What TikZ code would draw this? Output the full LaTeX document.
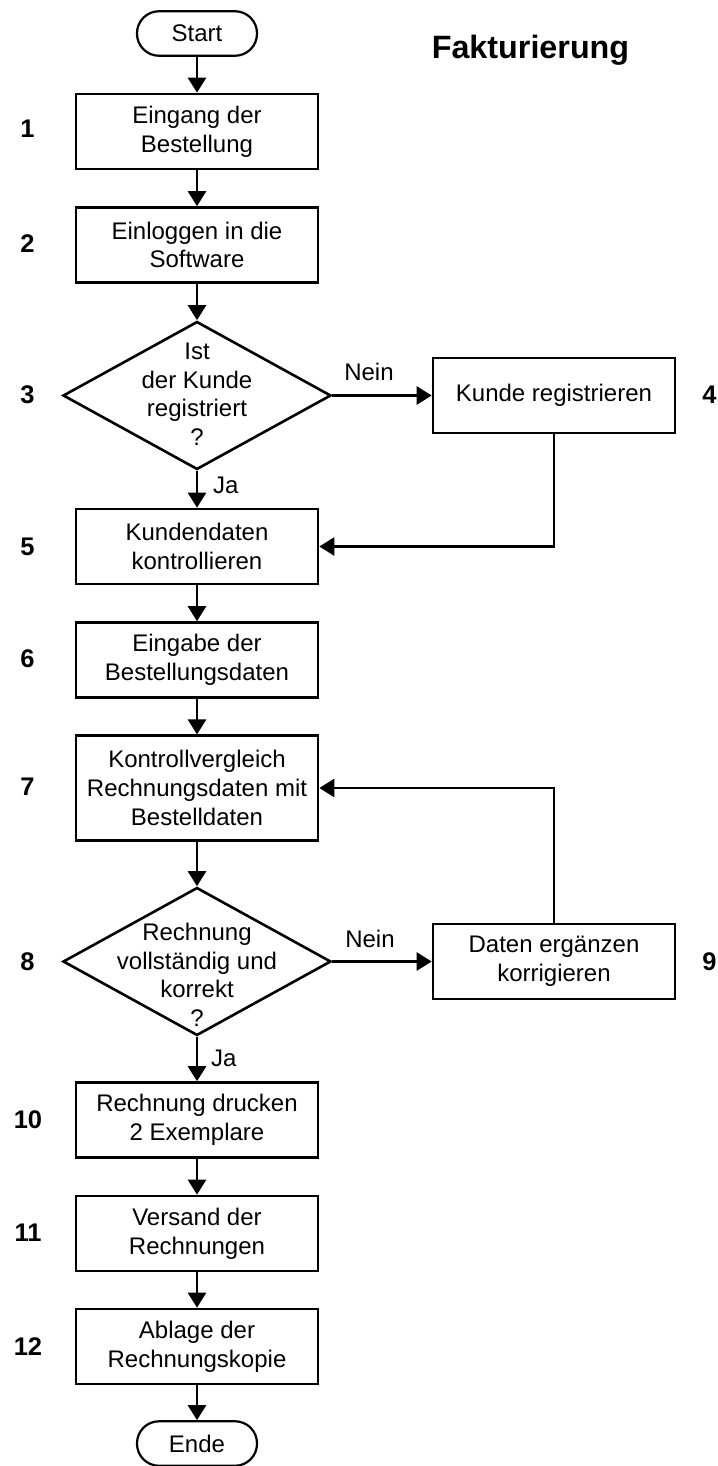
\documentclass[tikz,border=0pt]{standalone}
\usepackage{fontspec}
\setmainfont{Liberation Sans}
\usetikzlibrary{arrows.meta,shapes.geometric}
\begin{document}
\begin{tikzpicture}[x=1pt,y=-1pt,
  every node/.style={font=\fontsize{24}{28.6}\selectfont, inner sep=0pt, align=center},
  proc/.style={draw, line width=2.6pt, rectangle, minimum width=242pt, minimum height=75pt},
  term/.style={draw, line width=2.2pt, rectangle, rounded corners=22pt, minimum width=120pt, minimum height=44.5pt},
  dia/.style={draw, line width=2.6pt, diamond, minimum width=268pt, minimum height=148pt},
  num/.style={font=\fontsize{25.5}{28}\selectfont\bfseries, anchor=base},
  lbl/.style={anchor=base},
  arr/.style={line width=2.6pt, -{Triangle[length=15pt,width=18pt]}},
  conn/.style={line width=2.6pt}
]
\fill[white] (0,0) rectangle (717,1466);
\useasboundingbox (0,0) rectangle (717,1466);

\node[font=\fontsize{32.3}{36}\selectfont\bfseries, anchor=base] (title) at (530.5,59) {Fakturierung};

\node[term] (start) at (197,33.5) {Start};
\node[proc] (b1) at (197,131.5) {Eingang der\\Bestellung};
\node[proc] (b2) at (197,245) {Einloggen in die\\Software};
\node[dia] (d3) at (197,395.5) {};
\node[anchor=north] (t3) at (197,343) {Ist\\der Kunde\\registriert\\?};
\node[proc] (b4) at (554,395.5) {Kunde registrieren};
\node[proc] (b5) at (197,546.5) {Kundendaten\\kontrollieren};
\node[proc] (b6) at (197,660) {Eingabe der\\Bestellungsdaten};
\node[proc, minimum height=104.5pt] (b7) at (197,788) {Kontrollvergleich\\Rechnungsdaten mit\\Bestelldaten};
\node[dia] (d8) at (197,961.5) {};
\node[anchor=north] (t8) at (197,923) {Rechnung\\vollständig und\\korrekt\\?};
\node[proc] (b9) at (554,961.5) {Daten ergänzen\\korrigieren};
\node[proc] (b10) at (197,1120) {Rechnung drucken\\2 Exemplare};
\node[proc] (b11) at (197,1233.5) {Versand der\\Rechnungen};
\node[proc] (b12) at (197,1346.5) {Ablage der\\Rechnungskopie};
\node[term] (ende) at (197,1443.5) {Ende};

% step numbers
\node[num] (n1) at (27.5,138) {1};
\node[num] (n2) at (27.5,252) {2};
\node[num] (n3) at (27.5,403) {3};
\node[num] (n4) at (709.5,403) {4};
\node[num] (n5) at (27.5,555) {5};
\node[num] (n6) at (27.5,667) {6};
\node[num] (n7) at (27.5,795) {7};
\node[num] (n8) at (27.5,970) {8};
\node[num] (n9) at (709.5,970) {9};
\node[num] (n10) at (28,1128) {10};
\node[num] (n11) at (28,1241) {11};
\node[num] (n12) at (28,1355) {12};

% connectors
\draw[arr] (start) -- (b1);
\draw[arr] (b1) -- (b2);
\draw[arr] (b2) -- (d3);
\draw[arr] (d3) -- (b5);
\draw[arr] (d3.east) -- (b4.west);
\draw[arr] (b4.south) |- (b5.east);
\draw[arr] (b5) -- (b6);
\draw[arr] (b6) -- (b7);
\draw[arr] (b7) -- (d8);
\draw[arr] (d8.east) -- (b9.west);
\draw[arr] (b9.north) |- (b7.east);
\draw[arr] (d8) -- (b10);
\draw[arr] (b10) -- (b11);
\draw[arr] (b11) -- (b12);
\draw[arr] (b12) -- (ende);

% branch labels
\node[lbl] (nein3) at (369,380) {Nein};
\node[lbl, anchor=base west] (ja3) at (213,493) {Ja};
\node[lbl] (nein8) at (370,947) {Nein};
\node[lbl, anchor=base west] (ja8) at (211,1066) {Ja};
\end{tikzpicture}
\end{document}
